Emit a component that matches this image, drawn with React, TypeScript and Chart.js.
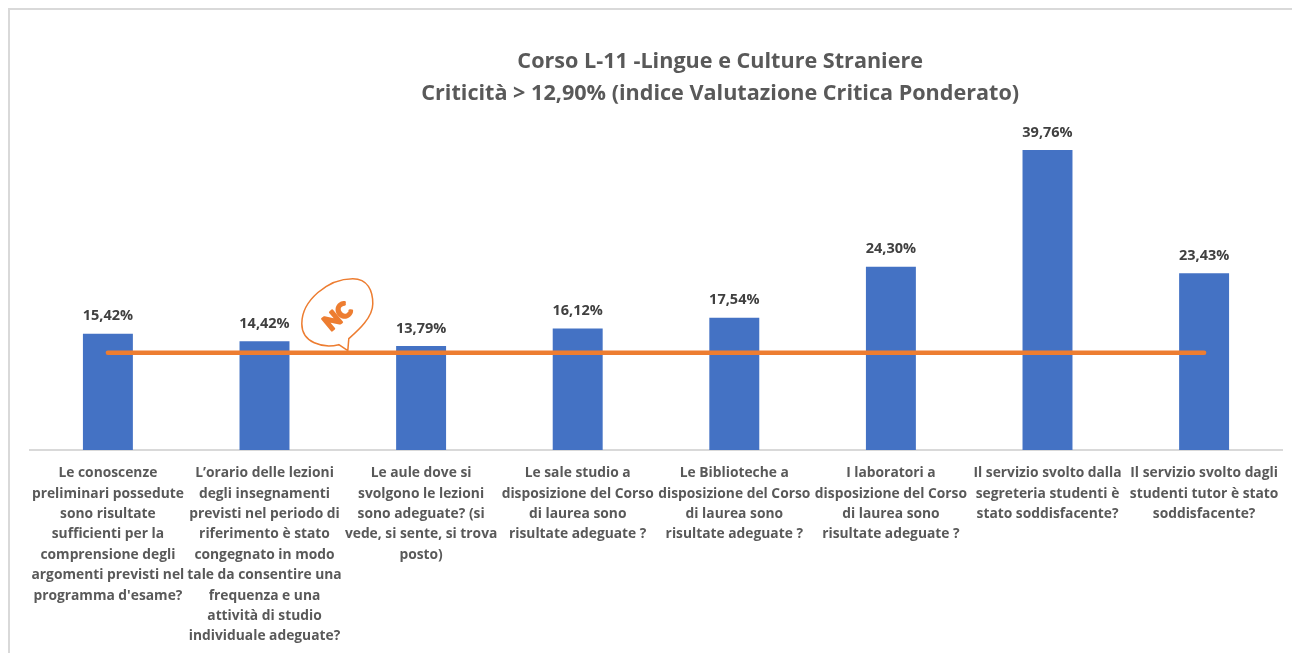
import React, { useEffect, useRef } from "react";
import { Chart, registerables } from "chart.js";

Chart.register(...registerables);

const titleLines = ["Corso L-11 -Lingue e Culture Straniere", "Criticità > 12,90% (indice Valutazione Critica Ponderato)"];
const categories = [
  ["Le conoscenze", "preliminari possedute", "sono risultate", "sufficienti per la", "comprensione degli", "argomenti previsti nel", "programma d'esame?"],
  ["L’orario delle lezioni", "degli insegnamenti", "previsti nel periodo di", "riferimento è stato", "congegnato in modo", "tale da consentire una", "frequenza e una", "attività di studio", "individuale adeguate?"],
  ["Le aule dove si", "svolgono le lezioni", "sono adeguate? (si", "vede, si sente, si trova", "posto)"],
  ["Le sale studio a", "disposizione del Corso", "di laurea sono", "risultate adeguate ?"],
  ["Le Biblioteche a", "disposizione del Corso", "di laurea sono", "risultate adeguate ?"],
  ["I laboratori a", "disposizione del Corso", "di laurea sono", "risultate adeguate ?"],
  ["Il servizio svolto dalla", "segreteria studenti è", "stato soddisfacente?"],
  ["Il servizio svolto dagli", "studenti tutor è stato", "soddisfacente?"],
];
const values = [15.42, 14.42, 13.79, 16.12, 17.54, 24.3, 39.76, 23.43];
const threshold = [12.9, 12.9, 12.9, 12.9, 12.9, 12.9, 12.9, 12.9];
const badgeText = "NC";

const FONT = '"Open Sans", sans-serif';
const GREY = "#595959";
const ORANGE = "#ED7D31";

const titleShift = {
  id: "titleShift",
  afterLayout(chart: any) {
    if (chart.titleBlock) chart.titleBlock.left = 158;
  },
};

const valueLabels = {
  id: "valueLabels",
  afterDatasetsDraw(chart: any) {
    const { ctx } = chart;
    const meta = chart.getDatasetMeta(1);
    ctx.save();
    ctx.font = `700 14.5px ${FONT}`;
    ctx.fillStyle = "#404040";
    ctx.textAlign = "center";
    ctx.textBaseline = "middle";
    meta.data.forEach((bar: any, i: number) => {
      ctx.fillText(values[i].toFixed(2).replace(".", ",") + "%", bar.x, bar.y - 17.5);
    });
    ctx.restore();
  },
};

const badge = {
  id: "badge",
  afterDatasetsDraw(chart: any) {
    const { ctx, scales } = chart;
    const tipX = (scales.x.getPixelForValue(1) + scales.x.getPixelForValue(2)) / 2 + 5;
    const tipY = scales.y.getPixelForValue(threshold[0]) - 2;
    ctx.save();
    ctx.translate(tipX, tipY);
    ctx.beginPath();
    ctx.moveTo(0, 0);
    ctx.lineTo(-9, -6);
    ctx.bezierCurveTo(-25, -2, -46, -8, -46, -27);
    ctx.bezierCurveTo(-46, -50, -20, -72, 5, -72);
    ctx.bezierCurveTo(20, -72, 25, -60, 25, -47);
    ctx.bezierCurveTo(25, -33, 10, -20, 1, -12);
    ctx.closePath();
    ctx.strokeStyle = ORANGE;
    ctx.lineWidth = 1.5;
    ctx.stroke();
    ctx.translate(-10, -34);
    ctx.rotate((-40 * Math.PI) / 180);
    ctx.font = '900 21px "Lato", sans-serif';
    ctx.fillStyle = ORANGE;
    ctx.strokeStyle = ORANGE;
    ctx.lineWidth = 2.2;
    ctx.lineJoin = "round";
    ctx.textAlign = "center";
    ctx.textBaseline = "middle";
    ctx.strokeText(badgeText, 0, 0);
    ctx.fillText(badgeText, 0, 0);
    ctx.restore();
  },
};

export default function App() {
  const ref = useRef<HTMLCanvasElement | null>(null);
  useEffect(() => {
    const chart = new Chart(ref.current as HTMLCanvasElement, {
      type: "bar",
      data: {
        labels: categories as any,
        datasets: [
          {
            type: "line",
            label: "Soglia",
            data: threshold,
            borderColor: ORANGE,
            borderWidth: 4.5,
            borderCapStyle: "round",
            pointRadius: 0,
            order: 0,
          } as any,
          {
            type: "bar",
            label: "Criticità",
            data: values,
            backgroundColor: "#4472C4",
            barPercentage: 0.319,
            categoryPercentage: 1,
            order: 1,
          } as any,
        ],
      },
      options: {
        responsive: false,
        animation: false,
        layout: { padding: { top: 46, left: 29.6, right: 9.6, bottom: 0 } },
        plugins: {
          legend: { display: false },
          tooltip: { enabled: false },
          title: {
            display: true,
            text: titleLines,
            color: GREY,
            font: { family: FONT, size: 21.6, weight: "700" as any, lineHeight: "32px" as any },
            padding: { top: 0, bottom: 0.5 },
          },
        },
        scales: {
          x: {
            grid: { display: false },
            border: { display: true, color: "#d9d9d9", width: 2 },
            afterFit(scale: any) {
              scale.height = 203;
            },
            ticks: {
              autoSkip: false,
              maxRotation: 0,
              minRotation: 0,
              padding: 5,
              color: GREY,
              font: { family: FONT, size: 13.8, weight: "700" as any, lineHeight: "20.4px" as any },
            },
          },
          y: { display: false, min: 0, max: 45 },
        },
      },
      plugins: [titleShift, valueLabels, badge],
    } as any);
    return () => chart.destroy();
  }, []);
  return (
    <div style={{ position: "fixed", left: 0, top: 0, width: 1292, height: 653, background: "#fff", overflow: "hidden" }}>
      <div style={{ position: "absolute", left: 8, top: 8, width: 1284, height: 645, borderLeft: "2px solid #d9d9d9", borderTop: "2px solid #d9d9d9", boxSizing: "border-box" }} />
      <canvas ref={ref} width={1292} height={653} style={{ position: "absolute", left: 0, top: 0 }} />
    </div>
  );
}
